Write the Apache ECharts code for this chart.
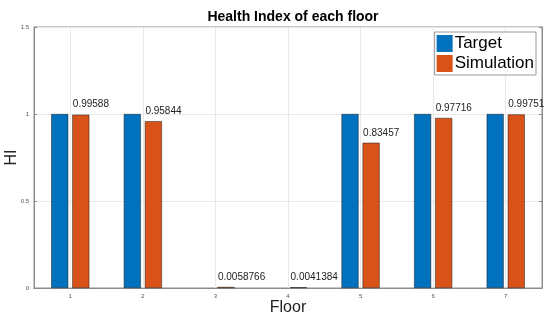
<!DOCTYPE html>
<html><head><meta charset="utf-8">
<script src="https://cdn.jsdelivr.net/npm/echarts@6/dist/echarts.min.js"></script>
<style>html,body{margin:0;padding:0;background:#fff}#c{width:550px;height:323px}</style>
</head><body><div id="c"></div>
<script>
const floors = ['1','2','3','4','5','6','7'];
const target = [1, 1, 0, 0, 1, 1, 1];
const simulation = [0.99588, 0.95844, 0.0058766, 0.0041384, 0.83457, 0.97716, 0.99751];
const yTicks = [0, 0.5, 1, 1.5];

const chart = echarts.init(document.getElementById('c'));
const axisCol = '#8c8c8c';
const F = 'Helvetica, Arial, "Liberation Sans", sans-serif';
chart.setOption({
  animation: false,
  title: {text: 'Health Index of each floor', left: 288, top: 5, textAlign: 'center',
    textStyle: {fontFamily: F, fontSize: 14, fontWeight: 'bold', color: '#000'}},
  legend: {
    right: 14, top: 32, orient: 'vertical', itemWidth: 16, itemHeight: 17, itemGap: 3,
    padding: [3, 2, 3, 2], borderColor: '#999', borderWidth: 1, backgroundColor: '#fff',
    icon: 'rect', itemStyle: {borderWidth: 0},
    textStyle: {fontFamily: F, fontSize: 17, color: '#000', padding: [0,0,0,-3]},
    data: ['Target', 'Simulation']
  },
  grid: {left: 34, right: 8, top: 27, bottom: 35, show: true, borderColor: axisCol, borderWidth: 1,
    containLabel: false, outerBoundsMode: 'none'},
  xAxis: [{
    type: 'category', data: floors, boundaryGap: true,
    name: 'Floor', nameLocation: 'middle', nameGap: 12, nameMoveOverlap: false,
    nameTextStyle: {fontFamily: F, fontSize: 16, color: '#222', verticalAlign: 'top'},
    axisLine: {lineStyle: {color: axisCol}},
    axisTick: {alignWithLabel: true, inside: true, length: 3, lineStyle: {color: axisCol}},
    axisLabel: {fontSize: 6, color: '#555', margin: 5, fontFamily: F},
    splitLine: {show: false}
  }, {
    type: 'category', data: floors, position: 'top', boundaryGap: true,
    axisLine: {lineStyle: {color: axisCol}},
    axisTick: {alignWithLabel: true, inside: true, length: 3, lineStyle: {color: axisCol}},
    axisLabel: {show: false}
  }],
  yAxis: [{
    type: 'value', min: 0, max: 1.5, interval: 0.5,
    name: 'HI', nameLocation: 'middle', nameGap: 14, nameMoveOverlap: false,
    nameTextStyle: {fontFamily: F, fontSize: 16, color: '#222'},
    axisLine: {show: true, lineStyle: {color: axisCol}},
    axisTick: {show: true, inside: true, length: 3, lineStyle: {color: axisCol}},
    axisLabel: {fontSize: 6, color: '#555', margin: 5, fontFamily: F,
      formatter: v => yTicks.includes(v) ? String(v) : ''},
    splitLine: {show: true, lineStyle: {color: '#e8e8e8'}}
  }, {
    type: 'value', min: 0, max: 1.5, interval: 0.5, position: 'right',
    axisLine: {show: true, lineStyle: {color: axisCol}},
    axisTick: {show: true, inside: true, length: 3, lineStyle: {color: axisCol}},
    axisLabel: {show: false}, splitLine: {show: false}
  }],
  series: [{
    name: 'gridX', type: 'line', data: [], z: 0, silent: true,
    markLine: {
      symbol: 'none', silent: true, label: {show: false}, z: 0,
      lineStyle: {color: '#e8e8e8', type: 'solid', width: 1},
      data: floors.map(f => ({xAxis: f}))
    }
  }, {
    name: 'Target', type: 'bar', barWidth: 17, barGap: '24%',
    data: target.map(v => ({value: v, itemStyle: v === 0 ? {borderWidth: 0, opacity: 0} : {}})),
    itemStyle: {color: '#0072BD', borderColor: '#1a1a1a', borderWidth: 0.5},
    z: 3
  }, {
    name: 'Simulation', type: 'bar', data: simulation, barWidth: 17,
    itemStyle: {color: '#D95319', borderColor: '#1a1a1a', borderWidth: 0.5},
    label: {show: true, position: 'top', align: 'left', offset: [-8, 0],
      fontSize: 10, color: '#222', fontFamily: F, formatter: p => String(p.value)},
    z: 3
  }]
});
</script></body></html>
